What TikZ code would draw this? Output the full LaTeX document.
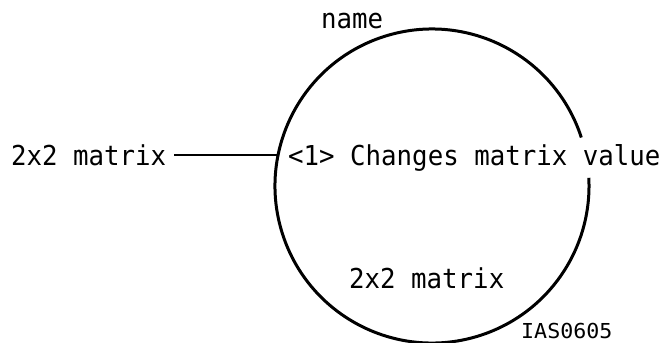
\documentclass[tikz,border=0pt]{standalone}
\usepackage{fontspec}
\usetikzlibrary{positioning}
\newfontfamily\diagfont[FakeStretch=0.94]{DejaVu Sans Mono}
\newfontfamily\tagfont[FakeStretch=1.05]{DejaVu Sans Mono}

\begin{document}
\begin{tikzpicture}[x=1bp, y=1bp,
        txt/.style={inner sep=0pt, anchor=base west, font=\diagfont\fontsize{27.4bp}{30bp}\selectfont},
        tag/.style={inner sep=0pt, anchor=base west, font=\tagfont\fontsize{20.6bp}{22bp}\selectfont}]
        \useasboundingbox (0,0) rectangle (663,342);

        % Nodes
        \node[circle, minimum size=314bp, inner sep=0pt, outer sep=0pt] (proc) at (432,156) {};

        \node[txt] (name) at (321,314) {name};
        \node[txt] (input) at (11,177) {2x2 matrix};
        \node[txt] (desc) at (288,177) {<1> Changes matrix value};
        \node[txt] (output) at (349,54) {2x2 matrix};
        \node[tag] (figid) at (521,4) {IAS0605};

        % Outline, open where the text crosses it
        \draw[line width=3bp] (proc.18) arc[start angle=18, end angle=363, radius=157bp];

        % Input line
        \draw[line width=2.4bp] ([xshift=8bp]input.east) -- (input.east -| proc.168);
    \end{tikzpicture}
\end{document}
